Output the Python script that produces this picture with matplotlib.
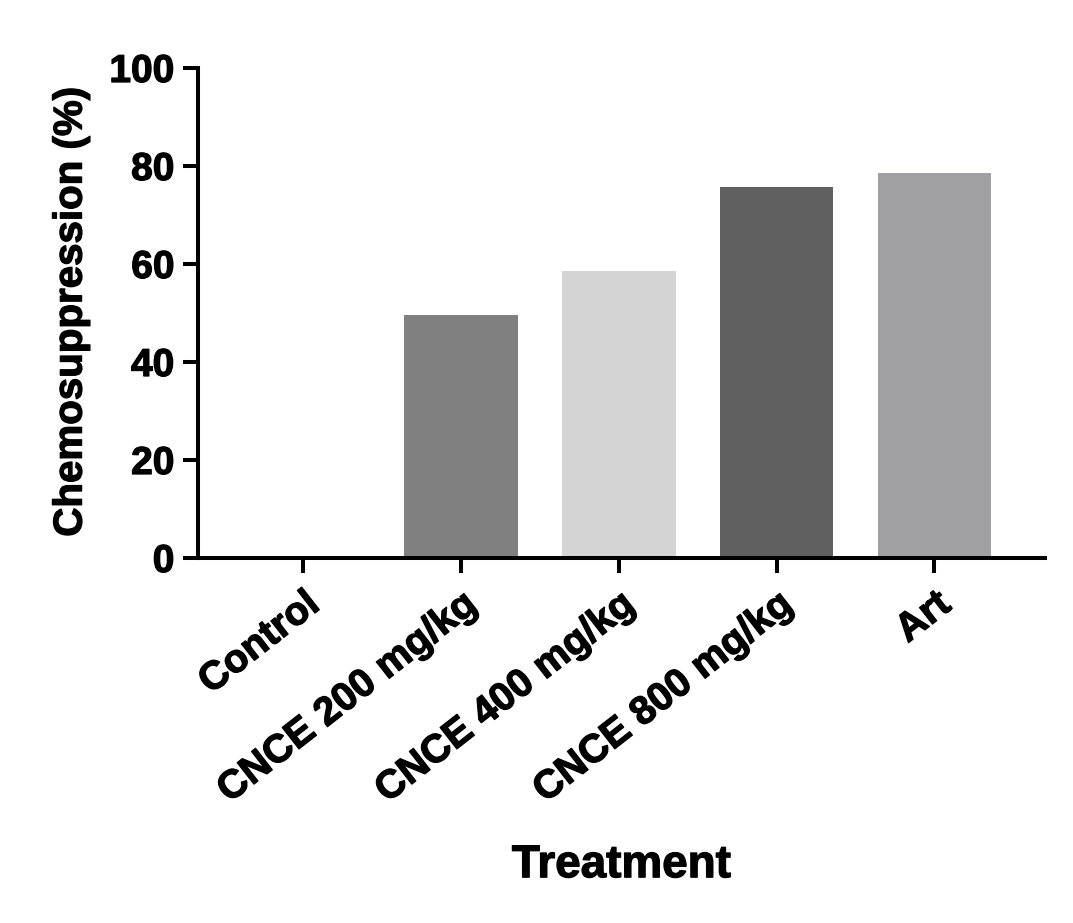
import matplotlib
matplotlib.use("Agg")
import matplotlib.pyplot as plt
import matplotlib.patheffects as pe
import numpy as np

categories = ["Control", "CNCE 200 mg/kg", "CNCE 400 mg/kg", "CNCE 800 mg/kg", "Art"]
values = [0.0, 49.5, 58.5, 75.7, 78.6]
colors = ["#ffffff", "#808080", "#d4d4d4", "#606060", "#a0a0a4"]
yticks = [0, 20, 40, 60, 80, 100]

plt.rcParams['font.family'] = ['Liberation Sans', 'DejaVu Sans']
plt.rcParams['font.weight'] = 'bold'

fig = plt.figure(figsize=(10.73, 9.23), dpi=100)
ax = fig.add_axes([198/1073, 1-558/923, (1045-198)/1073, (558-68)/923])

x = np.arange(len(categories))
ax.bar(x, values, width=0.72, color=colors, linewidth=0)

ax.set_xlim(-0.665, 4.70)
ax.set_ylim(0, 100)
ax.set_yticks(yticks)
ax.set_yticklabels([str(v) for v in yticks], fontsize=28, fontweight='bold')
ax.set_xticks(x)
ax.set_xticklabels(categories, fontsize=28.5, fontweight='bold', rotation=38,
                   ha='right', va='top', rotation_mode='anchor')

for s in ['top', 'right']:
    ax.spines[s].set_visible(False)
for s in ['left', 'bottom']:
    ax.spines[s].set_linewidth(2.9)
ax.tick_params(axis='both', length=11, width=2.9, color='black')
ax.tick_params(axis='y', pad=6)
ax.tick_params(axis='x', pad=8)

ax.set_ylabel("Chemosuppression (%)", fontsize=29, fontweight='bold')
ax.yaxis.set_label_coords(-0.128, 0.502)
ax.set_xlabel("Treatment", fontsize=33, fontweight='bold', va='top')
ax.xaxis.set_label_coords(0.5, -0.582)

stroke = [pe.withStroke(linewidth=0.9, foreground='black')]
for t in ax.get_xticklabels() + ax.get_yticklabels() + [ax.xaxis.label, ax.yaxis.label]:
    t.set_path_effects(stroke)

fig.savefig("out.png", dpi=100)
